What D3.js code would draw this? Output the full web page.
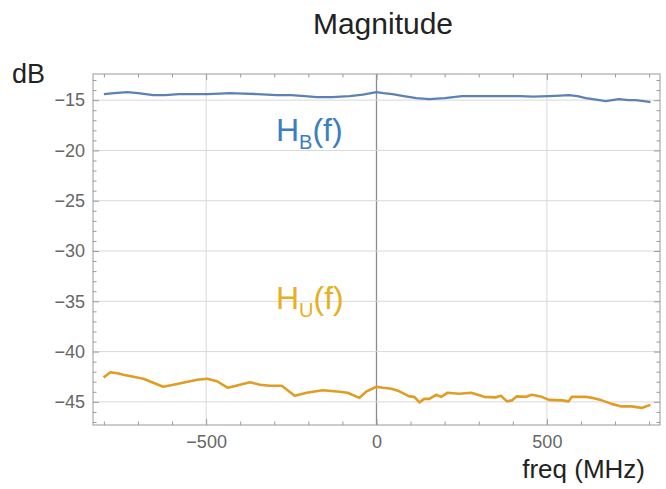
<!DOCTYPE html>
<html><head><meta charset="utf-8">
<script src="https://cdn.jsdelivr.net/npm/d3@7/dist/d3.min.js"></script>
<style>
html,body{margin:0;padding:0;background:#fff;}
svg{display:block;font-family:"Liberation Sans",Arial,sans-serif;}
</style></head>
<body>
<script>
// ---- data ----
const freqB = [-800,-770,-731,-700,-655,-620,-580,-540,-497,-460,-430,-390,-350,-292,-250,-210,-175,-130,-79,-40,0,20,47,80,117,155,200,251,300,368,420,460,506,540,564,590,614,645,673,711,740,760,785,804];
const magB  = [-14.4,-14.3,-14.2,-14.3,-14.5,-14.5,-14.4,-14.4,-14.4,-14.35,-14.3,-14.35,-14.4,-14.5,-14.5,-14.6,-14.7,-14.7,-14.6,-14.45,-14.2,-14.3,-14.4,-14.6,-14.8,-14.9,-14.8,-14.6,-14.6,-14.6,-14.6,-14.65,-14.6,-14.55,-14.5,-14.6,-14.8,-14.95,-15.1,-14.9,-15.0,-15.0,-15.1,-15.2];
const freqU = [-801,-781,-760,-743,-684,-626,-596,-526,-497,-468,-436,-371,-342,-313,-278,-240,-205,-158,-108,-85,-50,-29,0,18,44,67,96,111,126,140,155,175,190,208,243,278,316,351,365,383,398,412,439,456,485,506,544,564,573,614,632,661,690,719,749,778,804];
const magU  = [-42.58,-42.05,-42.15,-42.3,-42.7,-43.5,-43.3,-42.8,-42.7,-42.95,-43.6,-43.05,-43.3,-43.4,-43.4,-44.4,-44.1,-43.85,-44.0,-44.1,-44.6,-43.95,-43.5,-43.6,-43.7,-43.95,-44.45,-44.5,-45.05,-44.7,-44.7,-44.3,-44.5,-44.1,-44.2,-44.1,-44.5,-44.55,-44.4,-44.95,-44.85,-44.45,-44.5,-44.3,-44.5,-44.8,-44.85,-44.95,-44.5,-44.5,-44.6,-44.85,-45.2,-45.45,-45.45,-45.6,-45.3];
const xTickLabels = [-500, 0, 500];
const yTickLabels = [-45, -40, -35, -30, -25, -20, -15];
const title = "Magnitude";
const xLabel = "freq (MHz)";
const yLabel = "dB";

const W = 666, H = 489;
const L = 93, R = 660, T = 74, B = 425;
const svg = d3.select("body").append("svg").attr("width", W).attr("height", H);

const x = d3.scaleLinear().domain([-832, 832]).range([L, R]);
const y = d3.scaleLinear().domain([-47.3, -12.4]).range([B, T]);

// grid
const grid = svg.append("g");
grid.selectAll("line.v").data(xTickLabels).join("line")
  .attr("x1", d => x(d)).attr("x2", d => x(d)).attr("y1", T).attr("y2", B)
  .attr("stroke", d => d === 0 ? "#8c8c8c" : "#d9d9d9").attr("stroke-width", d => d === 0 ? 1.3 : 1);
grid.selectAll("line.h").data(yTickLabels).join("line")
  .attr("x1", L).attr("x2", R).attr("y1", d => y(d)).attr("y2", d => y(d))
  .attr("stroke", "#d9d9d9").attr("stroke-width", 1);

// data lines
const lineB = d3.line().x((d, i) => x(freqB[i])).y(d => y(d)).curve(d3.curveLinear);
const lineU = d3.line().x((d, i) => x(freqU[i])).y(d => y(d)).curve(d3.curveLinear);
svg.append("path").attr("d", lineB(magB)).attr("fill", "none").attr("stroke", "#5E81B5").attr("stroke-width", 2.4).attr("stroke-linejoin", "round");
svg.append("path").attr("d", lineU(magU)).attr("fill", "none").attr("stroke", "#E19C24").attr("stroke-width", 2.6).attr("stroke-linejoin", "round");

// axes with inward ticks
const minorX = d3.range(-800, 801, 100).filter(v => v % 500 !== 0);
const minorY = d3.range(-47, -12, 1).filter(v => v % 5 !== 0);
function styleAxis(g) {
  g.select(".domain").remove();
  g.selectAll(".tick line").attr("stroke", "#999");
  g.selectAll(".tick text").attr("fill", "#666").style("font-size", "18px").style("font-family", "'Liberation Sans',Arial,sans-serif");
}
const fmt = d => (d < 0 ? "\u2212" + Math.abs(d) : String(d));
svg.append("g").attr("transform", `translate(0,${B})`)
  .call(d3.axisBottom(x).tickValues(xTickLabels).tickSize(-6).tickPadding(10).tickFormat(fmt)).call(styleAxis);
svg.append("g").attr("transform", `translate(0,${B})`)
  .call(d3.axisBottom(x).tickValues(minorX).tickSize(-3.5).tickFormat("")).call(styleAxis);
svg.append("g").attr("transform", `translate(0,${T})`)
  .call(d3.axisTop(x).tickValues(xTickLabels).tickSize(-6).tickFormat("")).call(styleAxis);
svg.append("g").attr("transform", `translate(0,${T})`)
  .call(d3.axisTop(x).tickValues(minorX).tickSize(-3.5).tickFormat("")).call(styleAxis);
svg.append("g").attr("transform", `translate(${L},0)`)
  .call(d3.axisLeft(y).tickValues(yTickLabels).tickSize(-6).tickPadding(8).tickFormat(fmt)).call(styleAxis);
svg.append("g").attr("transform", `translate(${L},0)`)
  .call(d3.axisLeft(y).tickValues(minorY).tickSize(-3.5).tickFormat("")).call(styleAxis);
svg.append("g").attr("transform", `translate(${R},0)`)
  .call(d3.axisRight(y).tickValues(yTickLabels).tickSize(-6).tickFormat("")).call(styleAxis);
svg.append("g").attr("transform", `translate(${R},0)`)
  .call(d3.axisRight(y).tickValues(minorY).tickSize(-3.5).tickFormat("")).call(styleAxis);

// frame
svg.append("rect").attr("x", L).attr("y", T).attr("width", R - L).attr("height", B - T)
  .attr("fill", "none").attr("stroke", "#999").attr("stroke-width", 1);

// texts
svg.append("text").attr("x", 383).attr("y", 34).attr("text-anchor", "middle")
  .attr("fill", "#222").style("font-size", "30px").text(title);
svg.append("text").attr("x", 12).attr("y", 83).attr("fill", "#222").style("font-size", "27px").text(yLabel);
svg.append("text").attr("x", 645).attr("y", 478).attr("text-anchor", "end").attr("fill", "#222").style("font-size", "26px").text(xLabel);

function seriesLabel(px, py, sub, color) {
  const t = svg.append("text").attr("x", px).attr("y", py).attr("fill", color).style("font-size", "32px");
  t.append("tspan").text("H");
  t.append("tspan").attr("dy", 8).style("font-size", "20px").text(sub);
  t.append("tspan").attr("dy", -8).text("(f)");
}
seriesLabel(276, 141, "B", "#3c7ec2");
seriesLabel(276, 309, "U", "#e6b020");
</script>
</body></html>
